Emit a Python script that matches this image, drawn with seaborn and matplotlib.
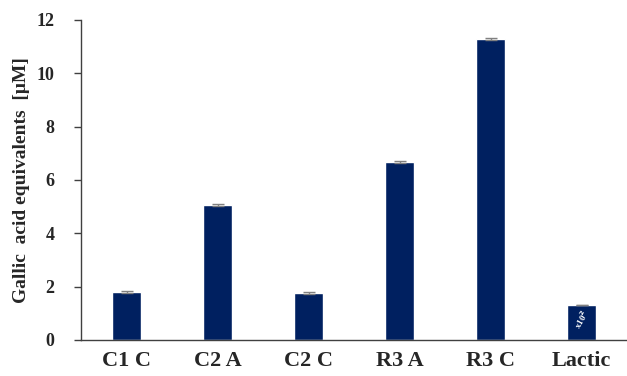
import matplotlib
matplotlib.use("Agg")
import matplotlib.pyplot as plt
import seaborn as sns
import pandas as pd

categories = ["C1 C", "C2 A", "C2 C", "R3 A", "R3 C", "Lactic"]
values = [1.80, 5.05, 1.76, 6.67, 11.30, 1.31]
errors = [0.04, 0.04, 0.04, 0.04, 0.04, 0.0]
y_ticks = [0, 2, 4, 6, 8, 10, 12]

sns.set_theme(style="white")
plt.rcParams['font.family'] = ['Liberation Serif', 'DejaVu Serif']
plt.rcParams['font.weight'] = 'bold'

df = pd.DataFrame({"cat": categories, "val": values})

fig = plt.figure(figsize=(6.27, 3.76), dpi=100)
ax = fig.add_axes([81/627, 1 - 340/376, 1 - 81/627, 320/376])

sns.barplot(data=df, x="cat", y="val", color="#002060", saturation=1,
            width=0.32, errorbar=None, ax=ax)
ax.errorbar(range(len(categories)), values, yerr=errors, fmt="none",
            ecolor="#808080", elinewidth=1, capsize=4, capthick=1)

bar = ax.patches[-1]
ax.text(bar.get_x() + bar.get_width() / 2, values[-1] * 0.6, "x10$^{2}$",
        color="white", fontsize=6.5, fontweight="bold", rotation=60,
        ha="center", va="center")

ax.set_xlim(-0.5, len(categories) - 0.5)
ax.set_ylim(0, 12)
ax.set_yticks(y_ticks)
ax.set_yticklabels([str(t) for t in y_ticks], fontsize=13, fontweight="bold")
ax.set_xticks(range(len(categories)))
ax.set_xticklabels(categories, fontsize=16, fontweight="bold")
ax.set_xlabel("")
ax.set_ylabel("Gallic  acid equivalents  [μM]", fontsize=14, fontweight="bold",
              labelpad=5)

for s in ["top", "right"]:
    ax.spines[s].set_visible(False)
for s in ["left", "bottom"]:
    ax.spines[s].set_color("#404040")
    ax.spines[s].set_linewidth(1)

ax.tick_params(axis="y", which="both", left=True, length=5, width=1,
               color="#404040", pad=14)
ax.tick_params(axis="x", bottom=False, pad=2)

fig.savefig("out.png", dpi=100)
